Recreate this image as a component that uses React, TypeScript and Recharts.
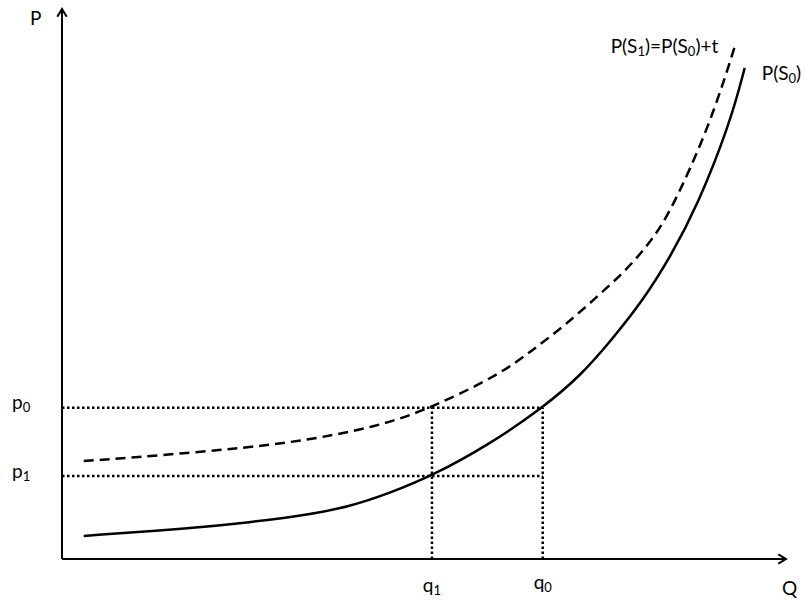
import React from "react";
import { LineChart, Line, XAxis, YAxis, ReferenceLine, ReferenceDot, Label } from "recharts";

// curves (Q and P on a 0-100 scale)
const supplyQ = [3.0, 18.1, 26.0, 32.9, 39.8, 45.3, 51.1, 59.1, 66.4, 71.6, 75.7, 80.3, 84.0, 87.7, 92.3, 94.3];
const supplyP = [4.2, 5.6, 6.7, 7.8, 9.5, 12.0, 15.1, 20.9, 27.5, 33.3, 39.5, 47.1, 54.9, 64.0, 79.3, 89.3];
const taxedQ = [3.0, 18.1, 31.9, 43.5, 51.1, 60.5, 64.6, 69.2, 73.6, 78.0, 81.2, 84.0, 89.5, 93.0];
const taxedP = [17.8, 19.3, 21.1, 24.0, 27.5, 33.6, 37.6, 42.2, 47.3, 52.6, 57.5, 62.9, 78.9, 93.5];

const q0 = 66.4;
const q1 = 51.1;
const p0 = 27.5;
const p1 = 15.1;

const supply = supplyQ.map((q, i) => ({ q, p: supplyP[i] }));
const taxed = taxedQ.map((q, i) => ({ q, p: taxedP[i] }));

const FONT = "Lato, 'Open Sans', sans-serif";
const SIZE = 19;

type Part = [string, boolean];

// text with subscripts, e.g. P(S1)
const SubText = ({ x, y, parts, anchor = "start" }: { x: number; y: number; parts: Part[]; anchor?: string }) => {
  let shifted = false;
  return (
    <text x={x} y={y} fontFamily={FONT} fontSize={SIZE} fill="#000" textAnchor={anchor as any} dominantBaseline="middle">
      {parts.map(([t, sub], i) => {
        let dy = 0;
        if (sub && !shifted) { dy = 5; shifted = true; }
        else if (!sub && shifted) { dy = -5; shifted = false; }
        return (
          <tspan key={i} dy={dy} fontSize={sub ? 13 : SIZE}>{t}</tspan>
        );
      })}
    </text>
  );
};

const Arrow = (props: any) => {
  const { x1, y1, x2, y2 } = props;
  const ang = Math.atan2(y2 - y1, x2 - x1);
  const L = 9;
  const a1 = ang + Math.PI - 0.55;
  const a2 = ang + Math.PI + 0.55;
  return (
    <g>
      <line x1={x1} y1={y1} x2={x2} y2={y2} stroke="#000" strokeWidth={2} />
      <polyline
        points={`${x2 + L * Math.cos(a1)},${y2 + L * Math.sin(a1)} ${x2},${y2} ${x2 + L * Math.cos(a2)},${y2 + L * Math.sin(a2)}`}
        fill="none" stroke="#000" strokeWidth={2}
      />
    </g>
  );
};

const dotLabel = (dx: number, dy: number, parts: Part[], anchor = "start") =>
  <Label content={({ viewBox }: any) => <SubText x={viewBox.x + dx} y={viewBox.y + dy} parts={parts} anchor={anchor} />} />;

const dotted = { stroke: "#000", strokeWidth: 2.5, strokeDasharray: "2.5 2.5", ifOverflow: "visible" as const };

export default function App() {
  return (
    <div style={{ position: "absolute", left: 0, top: 0, background: "#fff" }}>
      <LineChart width={808} height={606} margin={{ top: 9, right: 22, bottom: 47, left: 62 }}>
        <XAxis type="number" dataKey="q" domain={[0, 100]} hide allowDataOverflow />
        <YAxis type="number" dataKey="p" domain={[0, 100]} hide allowDataOverflow />

        <ReferenceLine segment={[{ x: 0, y: p0 }, { x: q0, y: p0 }]} {...dotted} />
        <ReferenceLine segment={[{ x: 0, y: p1 }, { x: q0, y: p1 }]} {...dotted} />
        <ReferenceLine segment={[{ x: q1, y: 0 }, { x: q1, y: p0 }]} {...dotted} />
        <ReferenceLine segment={[{ x: q0, y: 0 }, { x: q0, y: p0 }]} {...dotted} />

        <ReferenceLine segment={[{ x: 0, y: 0 }, { x: 0, y: 100 }]} shape={Arrow} ifOverflow="visible" />
        <ReferenceLine segment={[{ x: 0, y: 0 }, { x: 100, y: 0 }]} shape={Arrow} ifOverflow="visible" />

        <Line data={supply} dataKey="p" type="basis" stroke="#000" strokeWidth={2.5} dot={false} isAnimationActive={false} />
        <Line data={taxed} dataKey="p" type="basis" stroke="#000" strokeWidth={2.5} strokeDasharray="10 6" dot={false} isAnimationActive={false} />

        {/* axis and guide labels */}
        <ReferenceDot x={0} y={100} r={0} fill="none" stroke="none" ifOverflow="visible">
          {dotLabel(-32, 11, [["P", false]])}
        </ReferenceDot>
        <ReferenceDot x={100} y={0} r={0} fill="none" stroke="none" ifOverflow="visible">
          {dotLabel(-4, 31, [["Q", false]])}
        </ReferenceDot>
        <ReferenceDot x={0} y={p0} r={0} fill="none" stroke="none" ifOverflow="visible">
          {dotLabel(-50, -4, [["p", false], ["0", true]])}
        </ReferenceDot>
        <ReferenceDot x={0} y={p1} r={0} fill="none" stroke="none" ifOverflow="visible">
          {dotLabel(-50, -3, [["p", false], ["1", true]])}
        </ReferenceDot>
        <ReferenceDot x={q1} y={0} r={0} fill="none" stroke="none" ifOverflow="visible">
          {dotLabel(0, 28, [["q", false], ["1", true]], "middle")}
        </ReferenceDot>
        <ReferenceDot x={q0} y={0} r={0} fill="none" stroke="none" ifOverflow="visible">
          {dotLabel(0, 25, [["q", false], ["0", true]], "middle")}
        </ReferenceDot>

        {/* curve labels */}
        <ReferenceDot x={taxedQ[taxedQ.length - 1]} y={taxedP[taxedP.length - 1]} r={0} fill="none" stroke="none" ifOverflow="visible">
          {dotLabel(-17, 3, [["P(S", false], ["1", true], [")=P(S", false], ["0", true], [")+t", false]], "end")}
        </ReferenceDot>
        <ReferenceDot x={supplyQ[supplyQ.length - 1]} y={supplyP[supplyP.length - 1]} r={0} fill="none" stroke="none" ifOverflow="visible">
          {dotLabel(17, 7, [["P(S", false], ["0", true], [")", false]])}
        </ReferenceDot>
      </LineChart>
    </div>
  );
}
